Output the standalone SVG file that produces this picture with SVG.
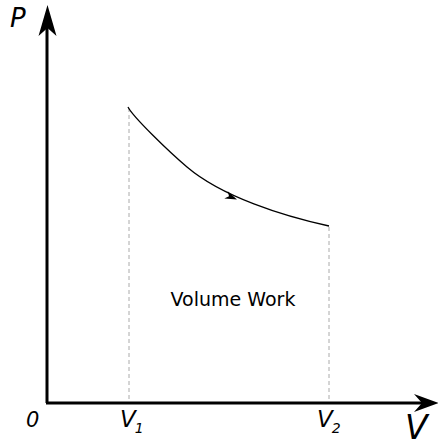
<svg xmlns="http://www.w3.org/2000/svg" width="438" height="439" viewBox="0 0 438 439">
<style>
.axis{stroke:#000;stroke-width:3;fill:none}
.dash{stroke:#aaa;stroke-width:1;stroke-dasharray:4,3;fill:none}
.curve{stroke:#000;stroke-width:1.3;fill:none}
.lab{font-family:"DejaVu Sans",sans-serif;font-style:italic;fill:#000}
.txt{font-family:"DejaVu Sans",sans-serif;fill:#000}
</style>
<rect width="438" height="439" fill="#fff"/>
<g id="connectors">
<line class="dash" x1="129" y1="108" x2="129" y2="402"/>
<line class="dash" x1="329" y1="227" x2="329" y2="402"/>
<path class="axis" d="M47,403 V26"/>
<path class="axis" d="M46,403 H424"/>
<path d="M47.5,5 L56.5,36 L47.5,28 L38.5,36 Z" fill="#000"/>
<path d="M439,403 L414,394 L422,403 L414,412 Z" fill="#000"/>
<path class="curve" d="M128,107 C133,117 169,151.7 187,167 C222,196.75 283,216 329,226"/>
<path d="M237,199.5 L224.3,198.6 L229,196.3 L227.7,191.2 Z" fill="#000"/>
</g>
<g id="labels">
<text class="lab" x="10" y="27" font-size="26">P</text>
<text class="lab" x="26" y="427" font-size="21">0</text>
<text class="lab" x="120" y="427" font-size="23">V<tspan font-size="14" dx="-1" dy="6">1</tspan></text>
<text class="lab" x="317" y="427" font-size="23">V<tspan font-size="14" dx="-1" dy="6">2</tspan></text>
<text class="lab" x="405" y="439" font-size="33">V</text>
</g>
<g id="work">
<text class="txt" x="233" y="306" font-size="19" text-anchor="middle">Volume Work</text>
</g>
</svg>
